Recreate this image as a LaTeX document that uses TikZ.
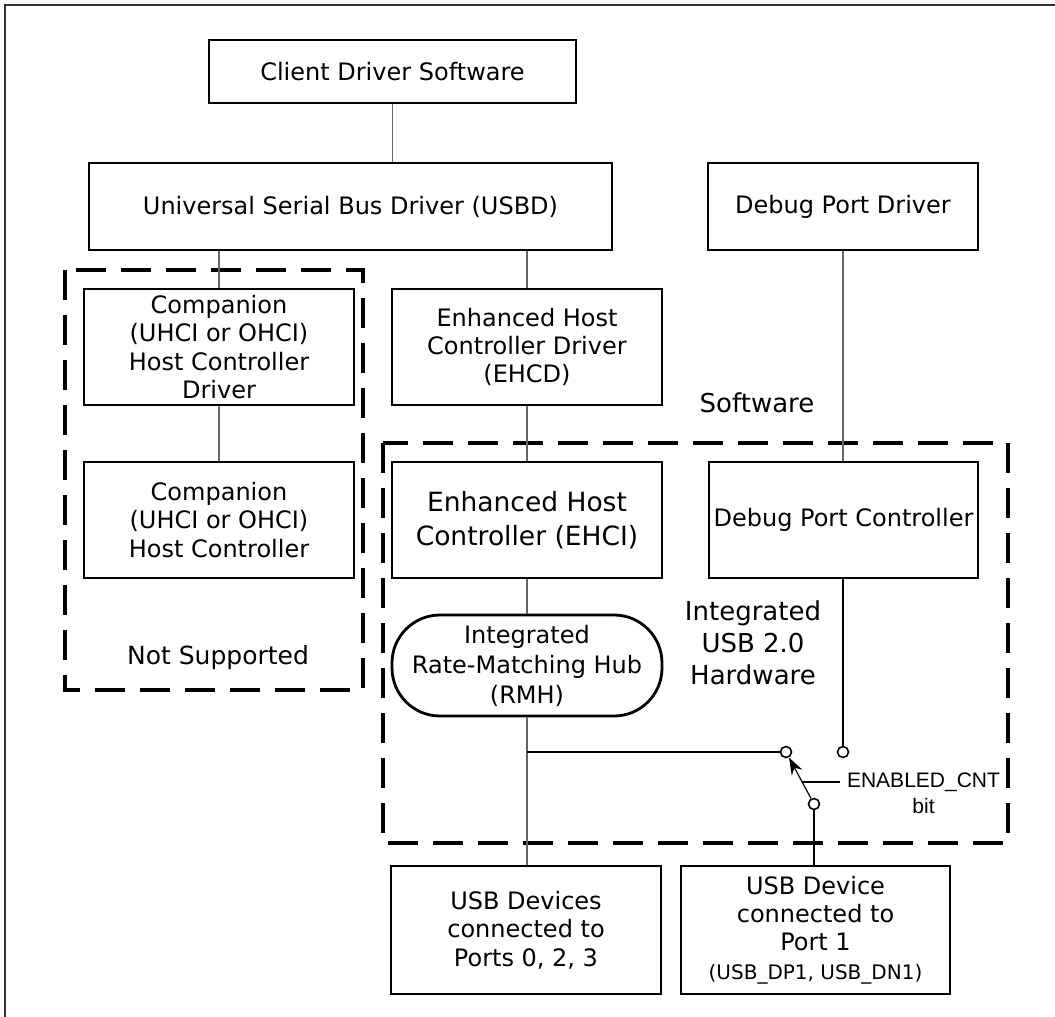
\documentclass[tikz,border=0pt]{standalone}
\usepackage{fontspec}
\setmainfont{DejaVu Sans}
\newfontfamily\arialfont{Liberation Sans}
\usetikzlibrary{arrows.meta,calc}
\newcommand\myfs[2]{\fontsize{#1}{#2}\selectfont}
\begin{document}
\begin{tikzpicture}[x=1pt,y=-1pt,
 box/.style={draw=black, line width=2.8pt, inner sep=0pt, align=center, font=\myfs{24pt}{28.3pt}},
 conn/.style={draw=black!60, line width=1.2pt},
 wire/.style={draw=black, line width=1.2pt},
 region/.style={draw=black, line width=3.5pt, dash pattern=on 30pt off 15pt},
 lbl/.style={inner sep=0pt, align=center, font=\myfs{26pt}{32pt}},
 pin/.style={circle, draw=black, line width=1.6pt, fill=white, minimum size=11pt, inner sep=0pt}]

\useasboundingbox (0,0) rectangle (1055,1017);
\draw[line width=2pt, black!80] (5,1017) -- (5,5) -- (1055,5);

% dashed regions
\draw[region] (65,270) rectangle (363,690);
\draw[region] (383,443) rectangle (1008,843);

% boxes
\node[box, minimum width=367pt, minimum height=63pt] (client) at (392.5,71.5) {Client Driver Software};
\node[box, minimum width=523pt, minimum height=87pt] (usbd) at (350.5,206.5) {Universal Serial Bus Driver (USBD)};
\node[box, minimum width=270pt, minimum height=87pt] (dpd) at (843,206.5) {Debug Port Driver};
\node[box, minimum width=270pt, minimum height=116pt] (comp1) at (219,347) {Companion\\(UHCI or OHCI)\\Host Controller\\Driver};
\node[box, minimum width=270pt, minimum height=116pt] (comp2) at (219,520) {Companion\\(UHCI or OHCI)\\Host Controller};
\node[box, minimum width=270pt, minimum height=116pt] (ehcd) at (527,347) {Enhanced Host\\Controller Driver\\(EHCD)};
\node[box, minimum width=270pt, minimum height=116pt, font=\myfs{26.5pt}{34pt}] (ehci) at (527,520) {Enhanced Host\\Controller (EHCI)};
\node[box, minimum width=269pt, minimum height=116pt] (dpc) at (843.5,520) {Debug Port Controller};
\node[box, minimum width=270pt, minimum height=101pt, rounded corners=48pt, font=\myfs{24pt}{30pt}] (rmh) at (527,665.5) {Integrated\\Rate-Matching Hub\\(RMH)};
\node[box, minimum width=270pt, minimum height=128pt] (usbl) at (526,930) {USB Devices\\connected to\\Ports 0, 2, 3};
\node[box, minimum width=269pt, minimum height=128pt] (usbr) at (815.5,930) {USB Device\\connected to\\Port 1\\{\myfs{20pt}{24pt}(USB\_DP1, USB\_DN1)}};

% labels
\node[lbl] (sw) at (757,403) {Software};
\node[lbl] (hw) at (753,643) {Integrated\\USB 2.0\\Hardware};
\node[lbl, font=\myfs{25pt}{30pt}] (ns) at (218,658) {Not Supported};
\node[inner sep=0pt, align=center, font=\arialfont\myfs{21pt}{26pt}] (en) at (923.5,793) {ENABLED\_CNT\\bit};

% connectors
\draw[conn] (client.south) -- (client.south |- usbd.north);
\draw[conn] (usbd.south -| comp1.north) -- (comp1.north);
\draw[conn] (usbd.south -| ehcd.north) -- (ehcd.north);
\draw[conn] (comp1.south) -- (comp2.north);
\draw[conn] (ehcd.south) -- (ehci.north);
\draw[conn] (ehci.south) -- (rmh.north);
\draw[conn] (rmh.south) -- (rmh.south |- usbl.north);
\draw[conn] (dpd.south) -- (dpd.south |- dpc.north);

% switch
\node[pin] (pa) at (786,752) {};
\node[pin] (pb) at (843,752) {};
\node[pin] (pc) at (814,804) {};
\draw[wire] (rmh.south |- pa) -- (pa);
\draw[wire] (pb |- dpc.south) -- (pb);
\draw[wire] (pc) -- (pc |- usbr.north);
\draw[line width=1.2pt, -{Stealth[length=17pt,width=12pt]}] (pc) -- (pa);
\coordinate (armpt) at ($(pc)!0.423!(pa)$);
\coordinate (enl) at ($(en.west |- armpt)+(-7,0)$);
\draw[wire] (armpt) -- (enl);
\end{tikzpicture}
\end{document}
